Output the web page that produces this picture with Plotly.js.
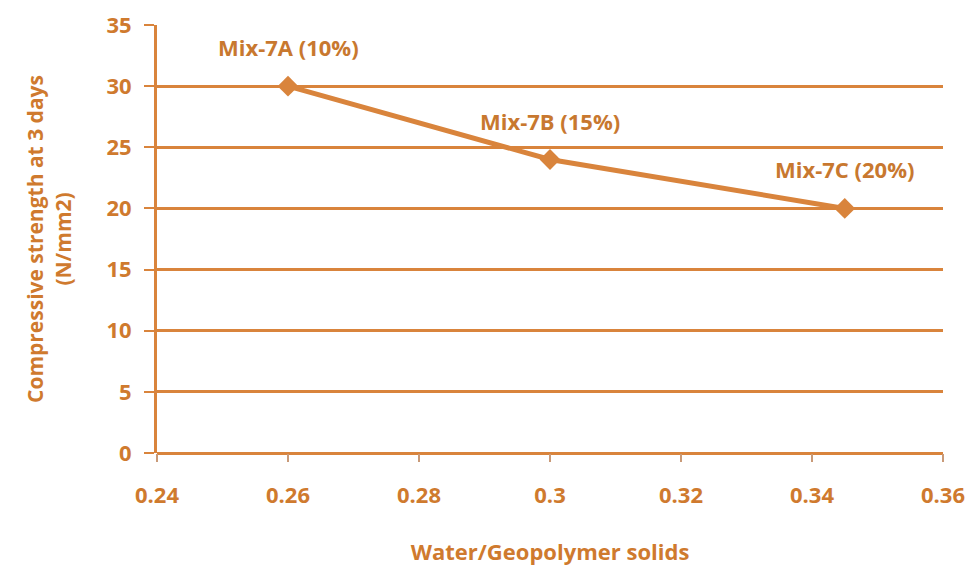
<!DOCTYPE html>
<html><head><meta charset="utf-8">
<script src="https://cdn.plot.ly/plotly-3.0.1.min.js"></script>
<style>html,body{margin:0;padding:0;background:#fff;}#chart{width:968px;height:586px;}</style>
</head><body><div id="chart"></div>
<script>
const ratio = [0.26, 0.30, 0.345];
const strength = [30, 24, 20];
const mixLabels = ["Mix-7A (10%)", "Mix-7B (15%)", "Mix-7C (20%)"];
const xTicks = [0.24, 0.26, 0.28, 0.3, 0.32, 0.34, 0.36];
const xTickText = ["0.24", "0.26", "0.28", "0.3", "0.32", "0.34", "0.36"];

const orange = "#D9843C";
const textCol = "#CF7A2E";
const fontFam = "'Open Sans', Lato, sans-serif";

const trace = {
  x: ratio, y: strength, type: "scatter", mode: "lines+markers",
  line: {color: orange, width: 5},
  marker: {symbol: "diamond", size: 16, color: orange},
  hoverinfo: "none"
};

const annotations = ratio.map((x, i) => ({
  x: x, y: strength[i], text: mixLabels[i], showarrow: false,
  yshift: 39, font: {family: fontFam, size: 22, color: "#C8782F", weight: 700}
}));

const layout = {
  width: 968, height: 586,
  margin: {l: 157, r: 25, t: 25, b: 133},
  paper_bgcolor: "#fff", plot_bgcolor: "#fff",
  showlegend: false,
  font: {family: fontFam, color: textCol},
  xaxis: {
    range: [0.24, 0.36], tickvals: xTicks, ticktext: xTickText,
    showgrid: false, zeroline: false,
    ticks: "outside", ticklen: 8, tickwidth: 2, tickcolor: "#C99A78",
    ticklabelstandoff: 15,
    showline: false,
    tickfont: {family: fontFam, size: 22, color: textCol, weight: 700},
    title: {text: "Water/Geopolymer solids", font: {family: fontFam, size: 22, color: textCol, weight: 700}, standoff: 36}
  },
  yaxis: {
    range: [0, 35], dtick: 5, tick0: 0,
    showgrid: true, gridcolor: orange, gridwidth: 3,
    zeroline: true, zerolinecolor: orange, zerolinewidth: 3,
    showline: true, linecolor: orange, linewidth: 3,
    ticks: "outside", ticklen: 10, tickwidth: 2, tickcolor: orange,
    ticklabelstandoff: 8,
    tickfont: {family: fontFam, size: 22, color: textCol, weight: 700},
    title: {text: "Compressive strength at 3 days<br>(N/mm2)", font: {family: fontFam, size: 21, color: textCol, weight: 700}, standoff: 30}
  },
  annotations: annotations
};

Plotly.newPlot("chart", [trace], layout, {displayModeBar: false, staticPlot: true});
</script></body></html>
